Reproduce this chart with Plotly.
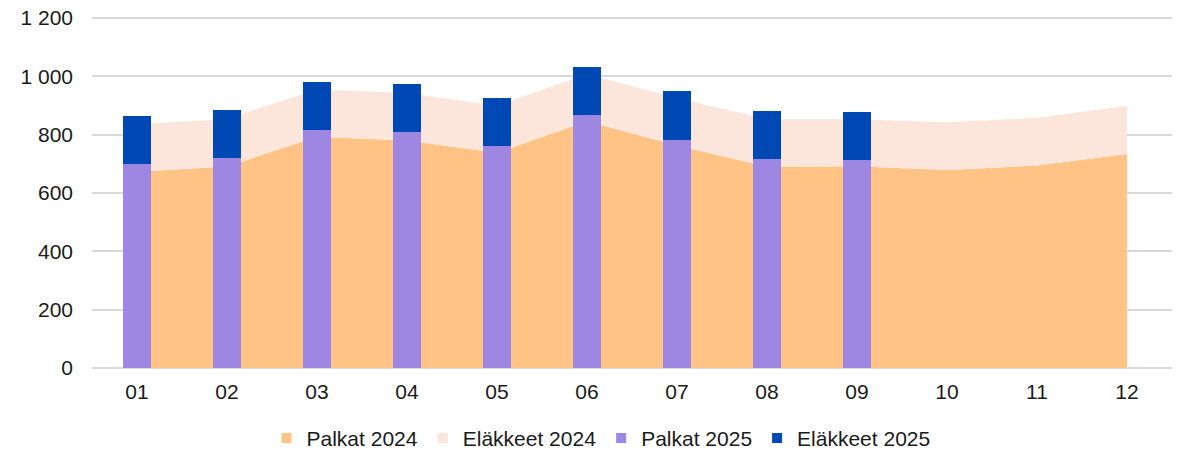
import plotly.graph_objects as go

months = ["01", "02", "03", "04", "05", "06", "07", "08", "09", "10", "11", "12"]
palkat_2024 = [673, 691, 793, 780, 738, 846, 763, 690, 692, 679, 694, 734]
elakkeet_2024 = [163, 163, 162, 163, 161, 162, 162, 163, 161, 164, 164, 164]
months_2025 = ["01", "02", "03", "04", "05", "06", "07", "08", "09"]
palkat_2025 = [699, 719, 816, 808, 760, 866, 782, 716, 712]
elakkeet_2025 = [166, 164, 165, 166, 167, 167, 167, 165, 167]
y_ticks = [0, 200, 400, 600, 800, 1000, 1200]
y_tick_labels = ["0", "200", "400", "600", "800", "1 000", "1 200"]

C_PALKAT24 = "#FFC386"
C_ELAK24 = "#FCE5DB"
C_PALKAT25 = "#9D87E3"
C_ELAK25 = "#0049B5"
FONT = "Liberation Sans, Arial, sans-serif"
FS = 21
XR = [-0.5, len(months) - 0.5]
YR = [0, 1206.9]

fig = go.Figure()

# Areas (2024) on base axes
fig.add_trace(go.Scatter(x=months, y=palkat_2024, name="Palkat 2024", stackgroup="a",
                         mode="none", fillcolor=C_PALKAT24, showlegend=False, hoverinfo="x+y"))
fig.add_trace(go.Scatter(x=months, y=elakkeet_2024, name="Eläkkeet 2024", stackgroup="a",
                         mode="none", fillcolor=C_ELAK24, showlegend=False, hoverinfo="x+y"))

# Bars (2025) on overlaying axes so they sit above the areas
fig.add_trace(go.Bar(x=months_2025, y=palkat_2025, name="Palkat 2025", marker_color=C_PALKAT25,
                     marker_line_width=0, showlegend=False, xaxis="x2", yaxis="y2"))
fig.add_trace(go.Bar(x=months_2025, y=elakkeet_2025, name="Eläkkeet 2025", marker_color=C_ELAK25,
                     marker_line_width=0, showlegend=False, xaxis="x2", yaxis="y2"))

# Legend entries (square swatches)
for name, col in [("Palkat 2024", C_PALKAT24), ("Eläkkeet 2024", C_ELAK24),
                  ("Palkat 2025", C_PALKAT25), ("Eläkkeet 2025", C_ELAK25)]:
    fig.add_trace(go.Scatter(x=[None], y=[None], mode="markers", name=name,
                             marker=dict(symbol="square", size=10, color=col)))

fig.update_layout(
    width=1173, height=441,
    barmode="stack", bargap=0.69,
    plot_bgcolor="white", paper_bgcolor="white",
    margin=dict(l=84, r=9, t=8, b=81, autoexpand=False),
    font=dict(family=FONT, size=FS, color="#1a1a1a"),
    showlegend=True,
    legend=dict(orientation="h", x=0.4713, xanchor="center", y=-0.2, yanchor="middle",
                font=dict(size=FS), itemwidth=30, traceorder="normal"),
    xaxis=dict(type="category", categoryorder="array", categoryarray=months, range=XR,
               showgrid=False, showline=False, ticks="", ticklabelstandoff=9,
               tickfont=dict(size=FS)),
    yaxis=dict(range=YR, tickvals=y_ticks, ticktext=y_tick_labels,
               showgrid=True, gridcolor="#D9D9D9", gridwidth=1.5,
               zeroline=True, zerolinecolor="#D9D9D9", zerolinewidth=1.5,
               showline=False, ticks="", ticklabelstandoff=18, ticklabeloverflow="allow",
               tickfont=dict(size=FS)),
    xaxis2=dict(type="category", categoryorder="array", categoryarray=months, range=XR,
                overlaying="x", visible=False),
    yaxis2=dict(range=YR, overlaying="y", visible=False),
)

fig.write_html("out.html")
